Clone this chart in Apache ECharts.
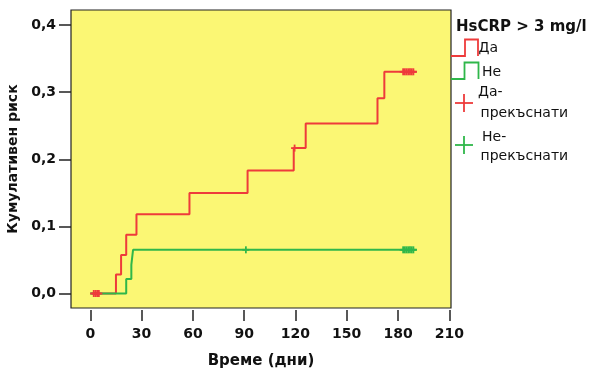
<!DOCTYPE html>
<html>
<head>
<meta charset="utf-8">
<script src="https://cdn.jsdelivr.net/npm/echarts@6/dist/echarts.min.js"></script>
<style>html,body{margin:0;padding:0;background:#fff;}#c{width:591px;height:369px;}</style>
</head>
<body>
<div id="c"></div>
<script>
// ---- data ----
var xTicks = [0, 30, 60, 90, 120, 150, 180, 210];
var yTicks = [0, 0.1, 0.2, 0.3, 0.4];
var redSteps = [[0,0],[15,0.0283],[18,0.0572],[21,0.0875],[27,0.118],[58,0.1496],[92,0.1833],[119,0.2167],[126,0.2534],[168,0.291],[172,0.3304],[191,0.3304]];
var greenSteps = [[0,0],[21,0.0215],[24,0.0428],[25,0.0651],[191,0.0651]];
var redCensored = [[2,0],[3,0],[4,0],[5,0],[119.5,0.2167],[183,0.3304],[184,0.3304],[185,0.3304],[186,0.3304],[187,0.3304],[188,0.3304],[189,0.3304]];
var greenCensored = [[91,0.0651],[183,0.0651],[184,0.0651],[185,0.0651],[186,0.0651],[187,0.0651],[188,0.0651],[189,0.0651]];
var legendTitle = 'HsCRP > 3 mg/l';
var xName = 'Време (дни)';
var yName = 'Кумулативен риск';

var RED = '#ee3b3b', GREEN = '#2fb74a', FONT = 'DejaVu Sans';

function crossItem(color, half) {
  return function (params, api) {
    var p = api.coord([api.value(0), api.value(1)]);
    return {
      type: 'group',
      children: [
        {type: 'line', shape: {x1: p[0]-half, y1: p[1], x2: p[0]+half, y2: p[1]}, style: {stroke: color, lineWidth: 1.8}},
        {type: 'line', shape: {x1: p[0], y1: p[1]-half, x2: p[0], y2: p[1]+half}, style: {stroke: color, lineWidth: 1.8}}
      ]
    };
  };
}

var chart = echarts.init(document.getElementById('c'), null, {renderer: 'canvas'});
var txt = function (t, x, y, font) {
  return {type: 'text', x: x, y: y, style: {text: t, font: font, fill: '#111', verticalAlign: 'middle', align: 'left'}};
};
var poly = function (pts, color) {
  return {type: 'polyline', shape: {points: pts}, style: {stroke: color, lineWidth: 1.8, fill: null}};
};
var cross = function (cx, cy, color) {
  return {type: 'group', children: [
    {type: 'line', shape: {x1: cx-9, y1: cy, x2: cx+9, y2: cy}, style: {stroke: color, lineWidth: 1.8}},
    {type: 'line', shape: {x1: cx, y1: cy-9, x2: cx, y2: cy+9}, style: {stroke: color, lineWidth: 1.8}}
  ]};
};

chart.setOption({
  animation: false,
  grid: {left: 71, top: 10, right: 140, bottom: 61, outerBoundsMode: 'none', containLabel: false, show: true, backgroundColor: '#fbf774', borderColor: '#222', borderWidth: 1.2},
  xAxis: {
    type: 'value', min: -11.3, max: 211, offset: 2, position: 'bottom',
    axisLine: {show: false, onZero: false},
    axisTick: {show: true, length: 11, customValues: xTicks, lineStyle: {color: '#222', width: 1.5}},
    axisLabel: {customValues: xTicks, margin: 17, color: '#111', fontFamily: FONT, fontWeight: 'bold', fontSize: 14},
    splitLine: {show: false},
    name: xName, nameLocation: 'middle', nameGap: 44,
    nameTextStyle: {color: '#111', fontFamily: FONT, fontWeight: 'bold', fontSize: 15}
  },
  yAxis: {
    type: 'value', min: -0.0216, max: 0.4225, position: 'left',
    axisLine: {show: false, onZero: false},
    axisTick: {show: true, length: 12, customValues: yTicks, lineStyle: {color: '#222', width: 1.5}},
    axisLabel: {customValues: yTicks, margin: 15, color: '#111', fontFamily: FONT, fontWeight: 'bold', fontSize: 14,
      formatter: function (v) { return v.toFixed(1).replace('.', ','); }},
    splitLine: {show: false},
    name: yName, nameLocation: 'middle', nameGap: 49,
    nameTextStyle: {color: '#111', fontFamily: FONT, fontWeight: 'bold', fontSize: 14}
  },
  series: [
    {type: 'line', step: 'end', data: redSteps, showSymbol: false, lineStyle: {color: RED, width: 2}, z: 2},
    {type: 'line', step: 'end', data: greenSteps, showSymbol: false, lineStyle: {color: GREEN, width: 2}, z: 3},
    {type: 'custom', data: greenCensored, renderItem: crossItem(GREEN, 3.5), z: 4},
    {type: 'custom', data: redCensored, renderItem: crossItem(RED, 3.5), z: 5}
  ],
  graphic: [
    txt(legendTitle, 456, 27, 'bold 15px "' + FONT + '"'),
    poly([[451,56],[465,56],[465,39.5],[478,39.5],[478,56]], RED),
    txt('Да', 478.5, 48.5, '14px "' + FONT + '"'),
    poly([[451,79],[464.5,79],[464.5,62.5],[478.5,62.5],[478.5,79]], GREEN),
    txt('Не', 482, 72, '14px "' + FONT + '"'),
    cross(464, 103, RED),
    txt('Да-', 478, 92, '14px "' + FONT + '"'),
    txt('прекъснати', 480.5, 113.5, '14px "' + FONT + '"'),
    cross(464, 145, GREEN),
    txt('Не-', 482, 137.5, '14px "' + FONT + '"'),
    txt('прекъснати', 480.5, 156.5, '14px "' + FONT + '"')
  ]
});
</script>
</body>
</html>
